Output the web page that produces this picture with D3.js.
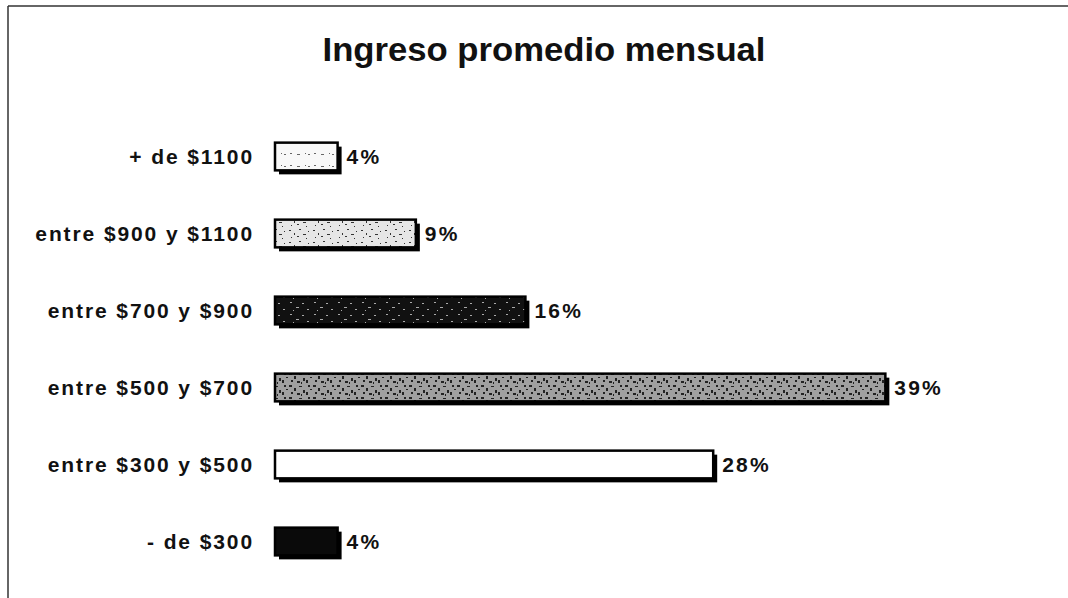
<!DOCTYPE html>
<html>
<head>
<meta charset="utf-8">
<script src="https://cdn.jsdelivr.net/npm/d3@7"></script>
<style>
html,body{margin:0;padding:0;background:#fff;}
svg{display:block;}
</style>
</head>
<body>
<svg id="chart" width="1068" height="598"></svg>
<script>
const categories = ["+ de $1100", "entre $900 y $1100", "entre $700 y $900", "entre $500 y $700", "entre $300 y $500", "- de $300"];
const values = [4, 9, 16, 39, 28, 4];
const valueLabels = ["4%", "9%", "16%", "39%", "28%", "4%"];
const title = "Ingreso promedio mensual";

const svg = d3.select("#chart");
const W = 1068, H = 598;
const FONT = "Liberation Sans, Arial, sans-serif";

// frame
svg.append("line").attr("x1", 8).attr("y1", 6).attr("x2", W).attr("y2", 6)
  .attr("stroke", "#333").attr("stroke-width", 1.5);
svg.append("line").attr("x1", 8).attr("y1", 6).attr("x2", 8).attr("y2", H)
  .attr("stroke", "#333").attr("stroke-width", 1.5);

// patterns
const defs = svg.append("defs");
function speckle(id, bg, fg, dots) {
  const p = defs.append("pattern").attr("id", id).attr("patternUnits", "userSpaceOnUse")
    .attr("width", 24).attr("height", 12);
  p.append("rect").attr("width", 24).attr("height", 12).attr("fill", bg);
  dots.forEach(d => p.append("rect").attr("x", d[0]).attr("y", d[1]).attr("width", d[2]).attr("height", d[3]).attr("fill", fg));
}
speckle("pLight", "#f8f8f8", "#666", [[2,9,2,1],[9,10,3,1],[17,9,1,1],[20,10,2,1]]);
speckle("pDot", "#e6e6e6", "#333", [[1,2,2,1],[6,5,1,2],[11,1,2,1],[15,6,3,1],[20,3,1,1],[3,9,1,1],[9,8,2,1],[18,10,1,1]]);
speckle("pDark", "#111", "#aaa", [[2,2,2,1],[8,7,3,1],[14,3,2,1],[19,9,2,1],[5,10,1,1]]);
speckle("pMid", "#a0a0a0", "#222", [[1,1,3,2],[6,4,2,3],[11,2,3,1],[15,6,2,3],[20,1,2,2],[3,8,2,2],[9,9,3,2],[18,8,2,3],[22,5,2,1],[13,10,1,2]]);
const fills = ["url(#pLight)", "url(#pDot)", "url(#pDark)", "url(#pMid)", "#ffffff", "#0a0a0a"];

const x = d3.scaleLinear().domain([0, 40]).range([275, 901]);
const y = d3.scaleBand().domain(categories).range([118, 580]).paddingInner(0.64).paddingOuter(0.32);

// title
svg.append("text").attr("x", 544).attr("y", 61).attr("text-anchor", "middle")
  .attr("font-family", FONT).attr("font-size", 33)
  .attr("font-weight", "bold").attr("fill", "#111")
  .attr("textLength", 443).attr("lengthAdjust", "spacingAndGlyphs")
  .text(title);

const rows = categories.map((c, i) => ({c, v: values[i], l: valueLabels[i], f: fills[i]}));

const g = svg.append("g");
// shadows
g.selectAll("rect.shadow").data(rows).join("rect").attr("class", "shadow")
  .attr("x", d => x(0) + 4).attr("y", d => y(d.c) + 4)
  .attr("width", d => x(d.v) - x(0)).attr("height", y.bandwidth())
  .attr("fill", "#000");
// bars
g.selectAll("rect.bar").data(rows).join("rect").attr("class", "bar")
  .attr("x", d => x(0)).attr("y", d => y(d.c))
  .attr("width", d => x(d.v) - x(0)).attr("height", y.bandwidth())
  .attr("fill", d => d.f).attr("stroke", "#000").attr("stroke-width", 2.5);

// category labels
g.selectAll("text.cat").data(rows).join("text").attr("class", "cat")
  .attr("x", 254).attr("y", d => y(d.c) + y.bandwidth() / 2 + 7)
  .attr("text-anchor", "end")
  .attr("font-family", FONT).attr("font-size", 21)
  .attr("letter-spacing", 1.9)
  .attr("font-weight", "bold").attr("fill", "#111")
  .text(d => d.c);

// value labels
g.selectAll("text.val").data(rows).join("text").attr("class", "val")
  .attr("x", d => x(d.v) + 9).attr("y", d => y(d.c) + y.bandwidth() / 2 + 7)
  .attr("font-family", FONT).attr("font-size", 21)
  .attr("letter-spacing", 2.2)
  .attr("font-weight", "bold").attr("fill", "#111")
  .text(d => d.l);
</script>
</body>
</html>
